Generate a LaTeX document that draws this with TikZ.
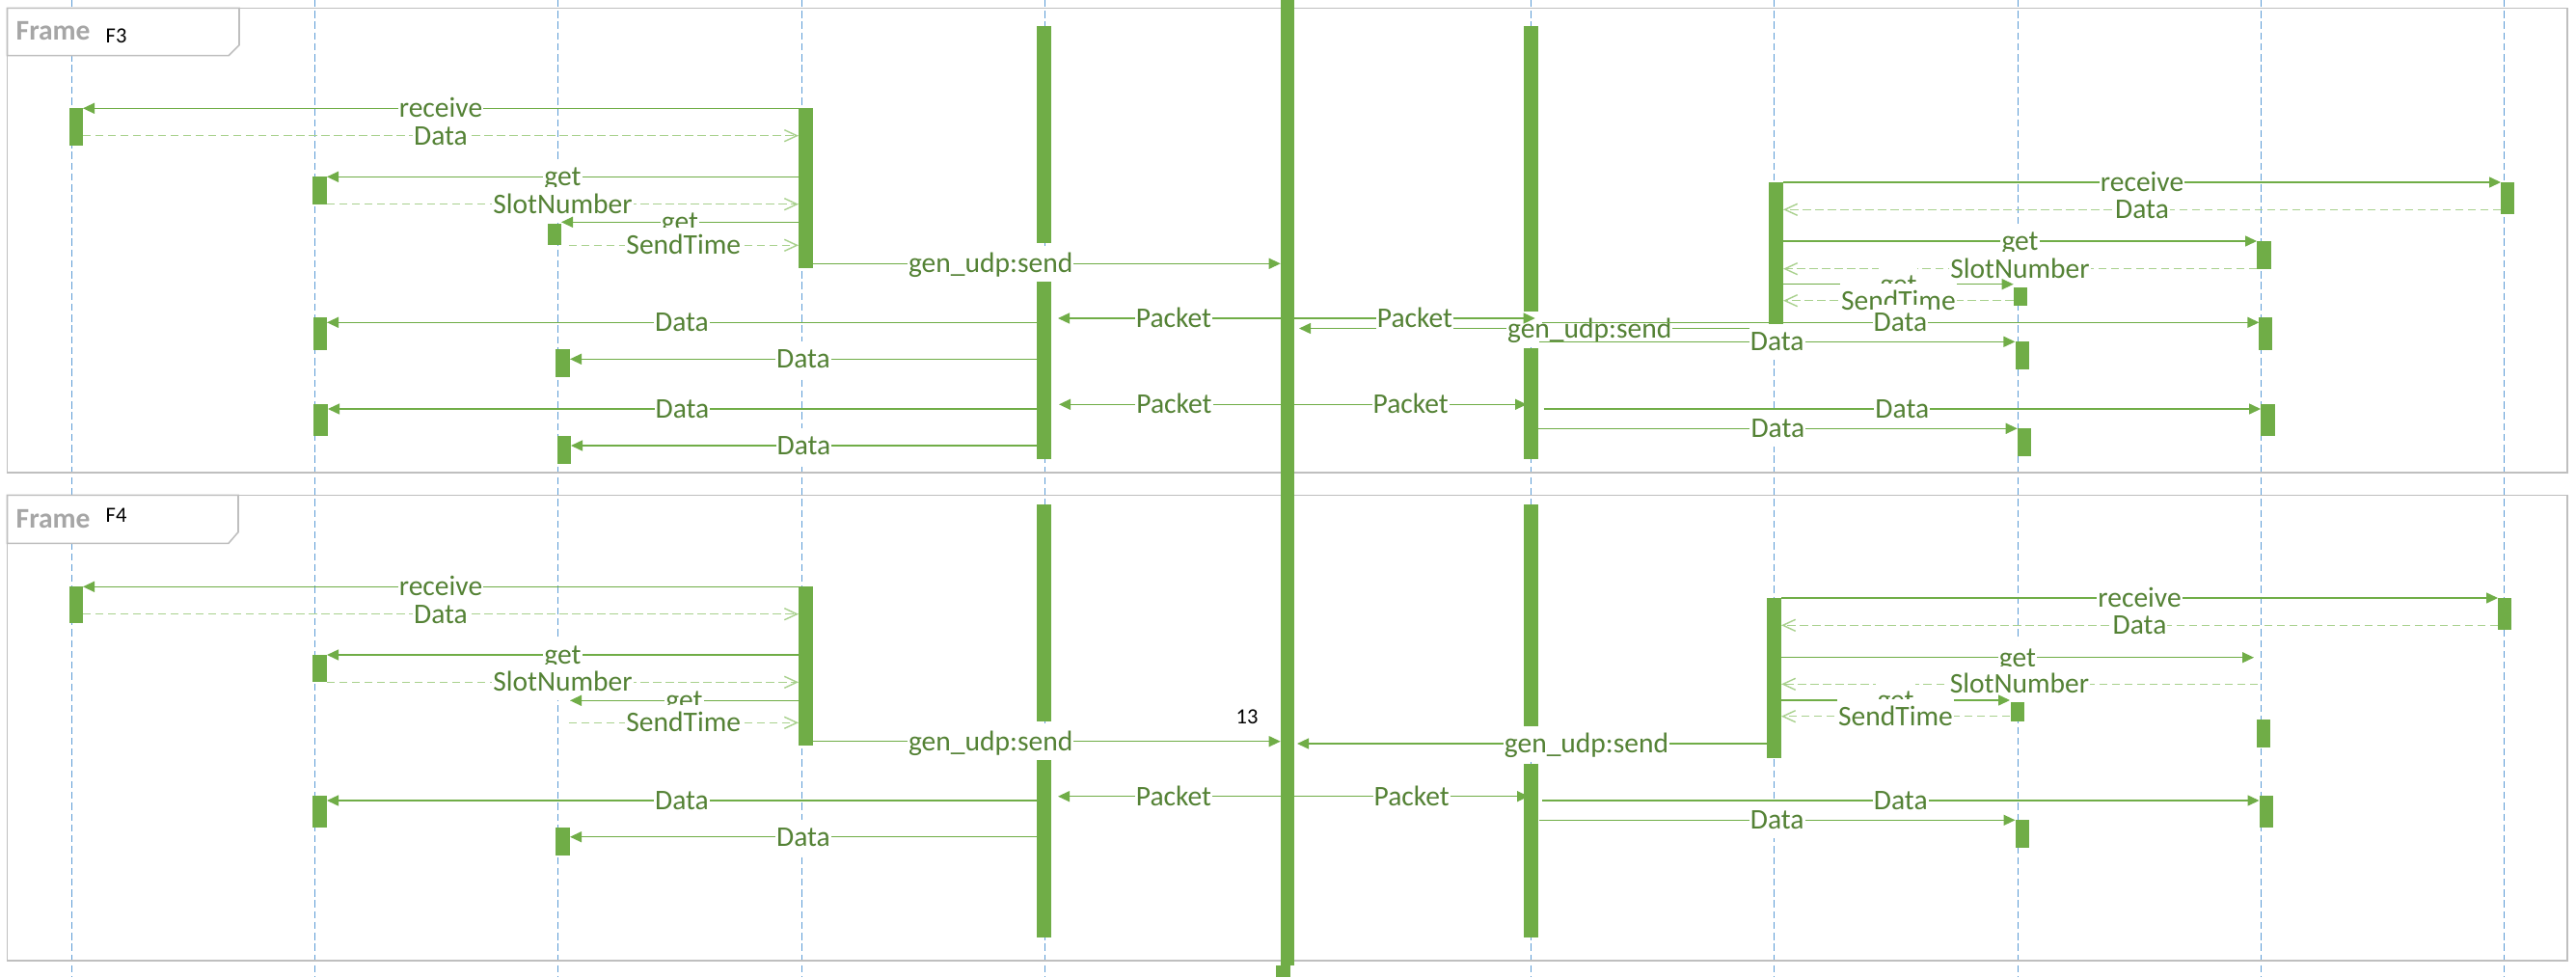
\documentclass[tikz,border=0pt]{standalone}
\usepackage{fontspec}
\setmainfont{Carlito}
\usetikzlibrary{arrows.meta}
\pgfdeclarelayer{edgelayer}
\pgfdeclarelayer{nodelayer}
\pgfsetlayers{edgelayer,nodelayer,main}
\definecolor{bargreen}{HTML}{70AD47}
\definecolor{msggreen}{HTML}{70AD47}
\definecolor{replygreen}{HTML}{A9D18E}
\definecolor{textgreen}{HTML}{548235}
\definecolor{lifeblue}{HTML}{5B9BD5}
\definecolor{framegray}{HTML}{BFBFBF}
\definecolor{titlegray}{HTML}{A6A6A6}
\tikzset{font=\fontsize{8.4}{10}\selectfont}
\tikzstyle{none}=[inner sep=0pt]
\tikzstyle{lifeline}=[draw=lifeblue, line width=0.3pt, dash pattern=on 2.1pt off 1.1pt]
\tikzstyle{umlframe}=[draw=framegray, line width=0.45pt]
\tikzstyle{actbar}=[draw=bargreen, line width=0.145cm]
\tikzstyle{call}=[draw=msggreen, line width=0.4pt, -{Triangle[length=0.12cm, width=0.11cm]}]
\tikzstyle{reply}=[draw=replygreen, line width=0.4pt, dash pattern=on 2.4pt off 1.3pt, -{Straight Barb[length=0.13cm, width=0.12cm]}]
\tikzstyle{msg label}=[fill=white, text=textgreen, inner xsep=0.3pt, inner ysep=0pt, text height=0.275cm, text depth=0.095cm, anchor=base, yshift=-0.095cm]
\tikzstyle{frame title}=[anchor=base west, inner sep=0pt, text=titlegray, font=\fontsize{8.4}{10}\selectfont\bfseries]
\tikzstyle{frame name}=[anchor=base west, inner sep=0pt, font=\fontsize{6.4}{8}\selectfont]

\begin{document}
\begin{tikzpicture}
	\useasboundingbox (0,0) rectangle (26.71,-10.13);
	\begin{pgfonlayer}{nodelayer}
		\node [style=none] (0) at (0.745, 0) {};
		\node [style=none] (1) at (0.745, -10.13) {};
		\node [style=none] (2) at (3.267, 0) {};
		\node [style=none] (3) at (3.267, -10.13) {};
		\node [style=none] (4) at (5.789, 0) {};
		\node [style=none] (5) at (5.789, -10.13) {};
		\node [style=none] (6) at (8.311, 0) {};
		\node [style=none] (7) at (8.311, -10.13) {};
		\node [style=none] (8) at (10.833, 0) {};
		\node [style=none] (9) at (10.833, -10.13) {};
		\node [style=none] (10) at (13.355, 0) {};
		\node [style=none] (11) at (13.355, -10.13) {};
		\node [style=none] (12) at (15.877, 0) {};
		\node [style=none] (13) at (15.877, -10.13) {};
		\node [style=none] (14) at (18.399, 0) {};
		\node [style=none] (15) at (18.399, -10.13) {};
		\node [style=none] (16) at (20.921, 0) {};
		\node [style=none] (17) at (20.921, -10.13) {};
		\node [style=none] (18) at (23.443, 0) {};
		\node [style=none] (19) at (23.443, -10.13) {};
		\node [style=none] (20) at (25.965, 0) {};
		\node [style=none] (21) at (25.965, -10.13) {};
		\node [style=none] (22) at (0.79, -1.123) {};
		\node [style=none] (23) at (0.79, -1.507) {};
		\node [style=none] (24) at (8.355, -1.123) {};
		\node [style=none] (25) at (8.355, -2.777) {};
		\node [style=none] (26) at (3.315, -1.833) {};
		\node [style=none] (27) at (3.315, -2.117) {};
		\node [style=none] (28) at (5.75, -2.323) {};
		\node [style=none] (29) at (5.75, -2.543) {};
		\node [style=none] (30) at (10.825, -0.273) {};
		\node [style=none] (31) at (10.825, -2.523) {};
		\node [style=none] (32) at (10.825, -2.893) {};
		\node [style=none] (33) at (10.825, -4.76) {};
		\node [style=none] (34) at (13.35, 0) {};
		\node [style=none] (35) at (13.35, -10.01) {};
		\node [style=none] (36) at (13.305, -10.01) {};
		\node [style=none] (37) at (13.305, -10.13) {};
		\node [style=none] (38) at (15.873, -0.273) {};
		\node [style=none] (39) at (15.873, -3.25) {};
		\node [style=none] (40) at (15.873, -3.61) {};
		\node [style=none] (41) at (15.873, -4.76) {};
		\node [style=none] (42) at (3.32, -3.293) {};
		\node [style=none] (43) at (3.32, -3.627) {};
		\node [style=none] (44) at (5.835, -3.623) {};
		\node [style=none] (45) at (5.835, -3.91) {};
		\node [style=none] (46) at (18.415, -1.89) {};
		\node [style=none] (47) at (18.415, -3.36) {};
		\node [style=none] (48) at (26.0, -1.89) {};
		\node [style=none] (49) at (26.0, -2.223) {};
		\node [style=none] (50) at (23.475, -2.5) {};
		\node [style=none] (51) at (23.475, -2.787) {};
		\node [style=none] (52) at (20.95, -2.947) {};
		\node [style=none] (53) at (20.95, -3.167) {};
		\node [style=none] (54) at (23.49, -3.293) {};
		\node [style=none] (55) at (23.49, -3.627) {};
		\node [style=none] (56) at (20.97, -3.543) {};
		\node [style=none] (57) at (20.97, -3.833) {};
		\node [style=none] (58) at (3.327, -4.193) {};
		\node [style=none] (59) at (3.327, -4.523) {};
		\node [style=none] (60) at (5.85, -4.523) {};
		\node [style=none] (61) at (5.85, -4.81) {};
		\node [style=none] (62) at (23.515, -4.193) {};
		\node [style=none] (63) at (23.515, -4.523) {};
		\node [style=none] (64) at (20.99, -4.443) {};
		\node [style=none] (65) at (20.99, -4.727) {};
		\node [style=none] (66) at (0.79, -6.083) {};
		\node [style=none] (67) at (0.79, -6.46) {};
		\node [style=none] (68) at (8.355, -6.083) {};
		\node [style=none] (69) at (8.355, -7.733) {};
		\node [style=none] (70) at (3.315, -6.79) {};
		\node [style=none] (71) at (3.315, -7.073) {};
		\node [style=none] (72) at (10.825, -5.233) {};
		\node [style=none] (73) at (10.825, -7.483) {};
		\node [style=none] (74) at (10.825, -7.85) {};
		\node [style=none] (75) at (10.825, -9.723) {};
		\node [style=none] (76) at (15.873, -5.233) {};
		\node [style=none] (77) at (15.873, -7.55) {};
		\node [style=none] (78) at (15.873, -7.917) {};
		\node [style=none] (79) at (15.873, -9.723) {};
		\node [style=none] (80) at (18.395, -6.2) {};
		\node [style=none] (81) at (18.395, -7.857) {};
		\node [style=none] (82) at (25.97, -6.2) {};
		\node [style=none] (83) at (25.97, -6.533) {};
		\node [style=none] (84) at (20.92, -7.257) {};
		\node [style=none] (85) at (20.92, -7.477) {};
		\node [style=none] (86) at (23.47, -7.46) {};
		\node [style=none] (87) at (23.47, -7.75) {};
		\node [style=none] (88) at (3.315, -8.25) {};
		\node [style=none] (89) at (3.315, -8.583) {};
		\node [style=none] (90) at (5.835, -8.583) {};
		\node [style=none] (91) at (5.835, -8.873) {};
		\node [style=none] (92) at (23.5, -8.25) {};
		\node [style=none] (93) at (23.5, -8.583) {};
		\node [style=none] (94) at (20.97, -8.5) {};
		\node [style=none] (95) at (20.97, -8.79) {};
		\node [style=none] (96) at (8.28, -1.123) {};
		\node [style=none] (97) at (0.86, -1.123) {};
		\node [style=none] (98) at (0.86, -1.407) {};
		\node [style=none] (99) at (8.28, -1.407) {};
		\node [style=none] (100) at (8.28, -1.833) {};
		\node [style=none] (101) at (3.39, -1.833) {};
		\node [style=none] (102) at (3.39, -2.117) {};
		\node [style=none] (103) at (8.28, -2.117) {};
		\node [style=none] (104) at (8.28, -2.303) {};
		\node [style=none] (105) at (5.82, -2.303) {};
		\node [style=none] (106) at (5.896, -2.543) {};
		\node [style=none] (107) at (8.28, -2.543) {};
		\node [style=none] (108) at (8.43, -2.733) {};
		\node [style=none] (109) at (13.277, -2.733) {};
		\node [style=none] (110) at (10.75, -3.343) {};
		\node [style=none] (111) at (3.39, -3.343) {};
		\node [style=none] (112) at (10.75, -3.723) {};
		\node [style=none] (113) at (5.91, -3.723) {};
		\node [style=none] (114) at (18.49, -1.89) {};
		\node [style=none] (115) at (25.93, -1.89) {};
		\node [style=none] (116) at (25.93, -2.173) {};
		\node [style=none] (117) at (18.49, -2.173) {};
		\node [style=none] (118) at (18.49, -2.5) {};
		\node [style=none] (119) at (23.4, -2.5) {};
		\node [style=none] (120) at (23.4, -2.787) {};
		\node [style=none] (121) at (18.49, -2.787) {};
		\node [style=none] (122) at (18.49, -2.947) {};
		\node [style=none] (123) at (20.877, -2.947) {};
		\node [style=none] (124) at (20.877, -3.117) {};
		\node [style=none] (125) at (18.49, -3.117) {};
		\node [style=none] (126) at (18.14, -3.405) {};
		\node [style=none] (127) at (13.47, -3.405) {};
		\node [style=none] (128) at (13.277, -3.3) {};
		\node [style=none] (129) at (10.97, -3.3) {};
		\node [style=none] (130) at (13.423, -3.3) {};
		\node [style=none] (131) at (15.917, -3.3) {};
		\node [style=none] (132) at (15.985, -3.343) {};
		\node [style=none] (133) at (23.424, -3.343) {};
		\node [style=none] (134) at (15.96, -3.543) {};
		\node [style=none] (135) at (20.894, -3.543) {};
		\node [style=none] (136) at (13.277, -4.193) {};
		\node [style=none] (137) at (10.98, -4.193) {};
		\node [style=none] (138) at (13.423, -4.193) {};
		\node [style=none] (139) at (15.83, -4.193) {};
		\node [style=none] (140) at (10.75, -4.24) {};
		\node [style=none] (141) at (3.40, -4.24) {};
		\node [style=none] (142) at (10.75, -4.62) {};
		\node [style=none] (143) at (5.92, -4.62) {};
		\node [style=none] (144) at (16.006, -4.24) {};
		\node [style=none] (145) at (23.44, -4.24) {};
		\node [style=none] (146) at (15.95, -4.443) {};
		\node [style=none] (147) at (20.917, -4.443) {};
		\node [style=none] (148) at (8.28, -6.083) {};
		\node [style=none] (149) at (0.86, -6.083) {};
		\node [style=none] (150) at (0.86, -6.367) {};
		\node [style=none] (151) at (8.28, -6.367) {};
		\node [style=none] (152) at (8.28, -6.79) {};
		\node [style=none] (153) at (3.39, -6.79) {};
		\node [style=none] (154) at (3.39, -7.073) {};
		\node [style=none] (155) at (8.28, -7.073) {};
		\node [style=none] (156) at (8.28, -7.263) {};
		\node [style=none] (157) at (5.91, -7.263) {};
		\node [style=none] (158) at (5.895, -7.493) {};
		\node [style=none] (159) at (8.28, -7.493) {};
		\node [style=none] (160) at (8.43, -7.687) {};
		\node [style=none] (161) at (13.277, -7.687) {};
		\node [style=none] (162) at (10.75, -8.3) {};
		\node [style=none] (163) at (3.39, -8.3) {};
		\node [style=none] (164) at (10.75, -8.677) {};
		\node [style=none] (165) at (5.91, -8.677) {};
		\node [style=none] (166) at (18.47, -6.2) {};
		\node [style=none] (167) at (25.9, -6.2) {};
		\node [style=none] (168) at (25.9, -6.483) {};
		\node [style=none] (169) at (18.47, -6.483) {};
		\node [style=none] (170) at (18.47, -6.817) {};
		\node [style=none] (171) at (23.37, -6.817) {};
		\node [style=none] (172) at (23.41, -7.093) {};
		\node [style=none] (173) at (18.47, -7.093) {};
		\node [style=none] (174) at (18.47, -7.26) {};
		\node [style=none] (175) at (20.84, -7.26) {};
		\node [style=none] (176) at (20.84, -7.427) {};
		\node [style=none] (177) at (18.47, -7.427) {};
		\node [style=none] (178) at (18.32, -7.71) {};
		\node [style=none] (179) at (13.45, -7.71) {};
		\node [style=none] (180) at (13.277, -8.257) {};
		\node [style=none] (181) at (10.97, -8.257) {};
		\node [style=none] (182) at (13.423, -8.257) {};
		\node [style=none] (183) at (15.85, -8.257) {};
		\node [style=none] (184) at (15.99, -8.3) {};
		\node [style=none] (185) at (23.425, -8.3) {};
		\node [style=none] (186) at (15.96, -8.503) {};
		\node [style=none] (187) at (20.895, -8.503) {};
		\node [style=frame title] (188) at (0.16, -0.417) {Frame};
		\node [style=frame name] (189) at (1.09, -0.443) {F3};
		\node [style=frame title] (190) at (0.16, -5.477) {Frame};
		\node [style=frame name] (191) at (1.09, -5.417) {F4};
		\node [style=frame name, anchor=base] (192) at (12.93, -7.5) {13};
	\end{pgfonlayer}
	\begin{pgfonlayer}{edgelayer}
		\draw [style=lifeline] (0.center) to (1.center);
		\draw [style=lifeline] (2.center) to (3.center);
		\draw [style=lifeline] (4.center) to (5.center);
		\draw [style=lifeline] (6.center) to (7.center);
		\draw [style=lifeline] (8.center) to (9.center);
		\draw [style=lifeline] (10.center) to (11.center);
		\draw [style=lifeline] (12.center) to (13.center);
		\draw [style=lifeline] (14.center) to (15.center);
		\draw [style=lifeline] (16.center) to (17.center);
		\draw [style=lifeline] (18.center) to (19.center);
		\draw [style=lifeline] (20.center) to (21.center);
		\draw [style=umlframe] (0.075, -0.083) rectangle (26.62, -4.9);
		\draw [style=umlframe, fill=white] (0.075, -0.083) -- (2.48, -0.083) -- (2.48, -0.467) -- (2.37, -0.577) -- (0.075, -0.577) -- cycle;
		\draw [style=umlframe] (0.075, -5.133) rectangle (26.62, -9.957);
		\draw [style=umlframe, fill=white] (0.075, -5.133) -- (2.47, -5.133) -- (2.47, -5.517) -- (2.37, -5.633) -- (0.075, -5.633) -- cycle;
		\draw [style=actbar] (22.center) to (23.center);
		\draw [style=actbar] (24.center) to (25.center);
		\draw [style=actbar] (26.center) to (27.center);
		\draw [style=actbar] (28.center) to (29.center);
		\draw [style=actbar] (30.center) to (31.center);
		\draw [style=actbar] (32.center) to (33.center);
		\draw [style=actbar] (34.center) to (35.center);
		\draw [style=actbar] (36.center) to (37.center);
		\draw [style=actbar] (38.center) to (39.center);
		\draw [style=actbar] (40.center) to (41.center);
		\draw [style=actbar] (42.center) to (43.center);
		\draw [style=actbar] (44.center) to (45.center);
		\draw [style=actbar] (46.center) to (47.center);
		\draw [style=actbar] (48.center) to (49.center);
		\draw [style=actbar] (50.center) to (51.center);
		\draw [style=actbar] (52.center) to (53.center);
		\draw [style=actbar] (54.center) to (55.center);
		\draw [style=actbar] (56.center) to (57.center);
		\draw [style=actbar] (58.center) to (59.center);
		\draw [style=actbar] (60.center) to (61.center);
		\draw [style=actbar] (62.center) to (63.center);
		\draw [style=actbar] (64.center) to (65.center);
		\draw [style=actbar] (66.center) to (67.center);
		\draw [style=actbar] (68.center) to (69.center);
		\draw [style=actbar] (70.center) to (71.center);
		\draw [style=actbar] (72.center) to (73.center);
		\draw [style=actbar] (74.center) to (75.center);
		\draw [style=actbar] (76.center) to (77.center);
		\draw [style=actbar] (78.center) to (79.center);
		\draw [style=actbar] (80.center) to (81.center);
		\draw [style=actbar] (82.center) to (83.center);
		\draw [style=actbar] (84.center) to (85.center);
		\draw [style=actbar] (86.center) to (87.center);
		\draw [style=actbar] (88.center) to (89.center);
		\draw [style=actbar] (90.center) to (91.center);
		\draw [style=actbar] (92.center) to (93.center);
		\draw [style=actbar] (94.center) to (95.center);
		\draw [style=call] (96.center) to node[style=msg label] {receive} (97.center);
		\draw [style=reply] (98.center) to node[style=msg label] {Data} (99.center);
		\draw [style=call] (100.center) to node[style=msg label] {get} (101.center);
		\draw [style=reply] (102.center) to node[style=msg label] {SlotNumber} (103.center);
		\draw [style=call] (104.center) to node[style=msg label] {get} (105.center);
		\draw [style=reply] (106.center) to node[style=msg label] {SendTime} (107.center);
		\draw [style=call] (108.center) to node[style=msg label, pos=0.38] {gen\_udp:send} (109.center);
		\draw [style=call] (110.center) to node[style=msg label] {Data} (111.center);
		\draw [style=call] (112.center) to node[style=msg label] {Data} (113.center);
		\draw [style=call] (114.center) to node[style=msg label] {receive} (115.center);
		\draw [style=reply] (116.center) to node[style=msg label] {Data} (117.center);
		\draw [style=call] (118.center) to node[style=msg label] {get} (119.center);
		\draw [style=reply] (120.center) to node[style=msg label] {SlotNumber} (121.center);
		\draw [style=call] (122.center) to node[style=msg label] {get} (123.center);
		\draw [style=reply] (124.center) to node[style=msg label] {SendTime} (125.center);
		\draw [style=call] (126.center) to node[style=msg label, pos=0.355] {gen\_udp:send} (127.center);
		\draw [style=call] (128.center) to node[style=msg label, pos=0.48] {Packet} (129.center);
		\draw [style=call] (130.center) to node[style=msg label] {Packet} (131.center);
		\draw [style=call] (132.center) to node[style=msg label] {Data} (133.center);
		\draw [style=call] (134.center) to node[style=msg label] {Data} (135.center);
		\draw [style=call] (136.center) to node[style=msg label, pos=0.48] {Packet} (137.center);
		\draw [style=call] (138.center) to node[style=msg label] {Packet} (139.center);
		\draw [style=call] (140.center) to node[style=msg label] {Data} (141.center);
		\draw [style=call] (142.center) to node[style=msg label] {Data} (143.center);
		\draw [style=call] (144.center) to node[style=msg label] {Data} (145.center);
		\draw [style=call] (146.center) to node[style=msg label] {Data} (147.center);
		\draw [style=call] (148.center) to node[style=msg label] {receive} (149.center);
		\draw [style=reply] (150.center) to node[style=msg label] {Data} (151.center);
		\draw [style=call] (152.center) to node[style=msg label] {get} (153.center);
		\draw [style=reply] (154.center) to node[style=msg label] {SlotNumber} (155.center);
		\draw [style=call] (156.center) to node[style=msg label] {get} (157.center);
		\draw [style=reply] (158.center) to node[style=msg label] {SendTime} (159.center);
		\draw [style=call] (160.center) to node[style=msg label, pos=0.38] {gen\_udp:send} (161.center);
		\draw [style=call] (162.center) to node[style=msg label] {Data} (163.center);
		\draw [style=call] (164.center) to node[style=msg label] {Data} (165.center);
		\draw [style=call] (166.center) to node[style=msg label] {receive} (167.center);
		\draw [style=reply] (168.center) to node[style=msg label] {Data} (169.center);
		\draw [style=call] (170.center) to node[style=msg label] {get} (171.center);
		\draw [style=reply] (172.center) to node[style=msg label] {SlotNumber} (173.center);
		\draw [style=call] (174.center) to node[style=msg label] {get} (175.center);
		\draw [style=reply] (176.center) to node[style=msg label] {SendTime} (177.center);
		\draw [style=call] (178.center) to node[style=msg label, pos=0.384] {gen\_udp:send} (179.center);
		\draw [style=call] (180.center) to node[style=msg label, pos=0.48] {Packet} (181.center);
		\draw [style=call] (182.center) to node[style=msg label] {Packet} (183.center);
		\draw [style=call] (184.center) to node[style=msg label] {Data} (185.center);
		\draw [style=call] (186.center) to node[style=msg label] {Data} (187.center);
	\end{pgfonlayer}
\end{tikzpicture}
\end{document}
